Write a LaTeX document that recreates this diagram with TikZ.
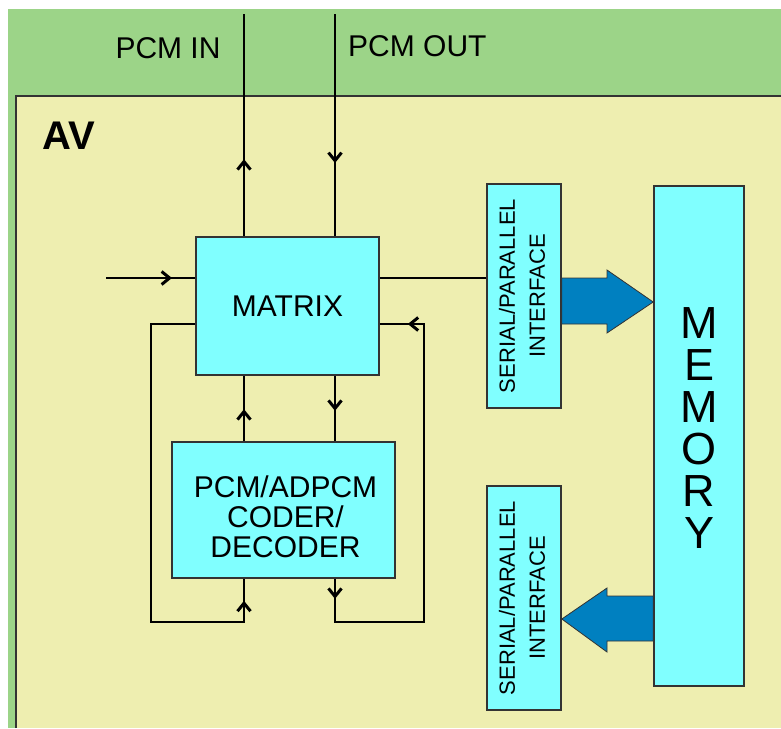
\documentclass[tikz,border=0pt]{standalone}
\usepackage{fontspec}
\setmainfont{Liberation Sans}
\usetikzlibrary{positioning,arrows.meta,calc,decorations.markings}
\definecolor{avgreen}{RGB}{156,212,136}
\definecolor{avyellow}{RGB}{238,238,176}
\definecolor{avcyan}{RGB}{128,255,255}
\definecolor{avblue}{RGB}{0,128,192}
\definecolor{avedge}{RGB}{51,51,51}
\tikzset{
  block/.style={draw=avedge, line width=1.6pt, fill=avcyan, inner sep=0pt, align=center, font=\fontsize{30}{30}\selectfont},
  sideblock/.style={draw=avedge, line width=1.6pt, fill=avcyan, inner sep=0pt, minimum width=74pt, minimum height=224pt},
  sidetext/.style={rotate=90, align=center, inner sep=0pt, font=\fontsize{22}{30}\selectfont},
  wire/.style={line width=1.4pt},
  chev/.tip={Straight Barb[length=8pt,width=13pt,line width=3pt]},
  tipat/.style={postaction={decorate}, decoration={markings, mark=at position #1 with {\arrow{chev}}}},
  fat/.style={draw=avedge, line width=0.8pt, fill=avblue},
  lbl/.style={inner sep=0pt, font=\fontsize{30}{30}\selectfont}
}

\begin{document}
\begin{tikzpicture}[x=1pt, y=-1pt]
  \useasboundingbox (0,0) rectangle (781,728);
  % background
  \fill[avgreen] (8,9) rectangle (781,728);
  \fill[avyellow] (16,96) rectangle (781,728);
  \draw[avedge, line width=2pt] (16,728) -- (16,96) -- (781,96);
  \node[anchor=base west, inner sep=0pt, font=\fontsize{40}{40}\selectfont\bfseries] (av) at (42,149) {AV};

  % blocks
  \node[block, minimum width=183pt, minimum height=138pt] (matrix) at (287.5,306) {MATRIX};
  \node[block, minimum width=223pt, minimum height=136pt] (coder) at (283.5,510) {};
  \node[lbl, align=center] (codertxt) at ($(coder.center)+(2,7)$) {PCM/ADPCM\\CODER/\\DECODER};
  \node[sideblock] (ser1) at (524,296) {};
  \node[sideblock] (ser2) at (524,598) {};
  \node[sidetext] at ($(ser1.center)+(-2,0)$) {SERIAL/PARALLEL\\INTERFACE};
  \node[sidetext] at ($(ser2.center)+(-2,0)$) {SERIAL/PARALLEL\\INTERFACE};
  \node[sideblock, minimum width=90pt, minimum height=500pt] (memory) at (699,436) {};
  \node[align=center, inner sep=0pt, font=\fontsize{45}{42}\selectfont] at ($(memory.center)+(0,-8)$) {M\\E\\M\\O\\R\\Y};

  % pcm lines
  \node[lbl] (inlbl) at (168,48) {PCM IN};
  \node[lbl, anchor=west] (outlbl) at (348,46) {PCM OUT};
  \coordinate (pin) at (244,14);
  \coordinate (pout) at (335,14);
  \coordinate (inL) at (106,278);
  \coordinate (fb) at (0,324);
  \coordinate (lowL) at (151,622);
  \coordinate (lowR) at (424,622);
  \draw[wire, tipat=77pt] (matrix.north -| pin) -- (pin);
  \draw[wire, tipat=149pt] (pout) -- (matrix.north -| pout);
  \draw[wire, tipat=66pt] (inL) -- (matrix.west |- inL);
  \draw[wire] (matrix.east |- inL) -- (ser1.west |- inL);
  \draw[wire, tipat=32pt] (coder.north -| pin) -- (matrix.south -| pin);
  \draw[wire, tipat=35pt] (matrix.south -| pout) -- (coder.north -| pout);
  \draw[wire, tipat=-22pt] (matrix.west |- fb) -| (lowL) -| (coder.south -| pin);
  \draw[wire, postaction={decorate}, decoration={markings,
      mark=at position 20pt with {\arrow{chev}},
      mark=at position -28pt with {\arrow{chev}}}]
    (coder.south -| pout) |- (lowR) |- (matrix.east |- fb);

  % block arrows
  \draw[fat] (ser1.east |- 0,278) -- (607,278) -- (607,270) -- (memory.west |- 0,302)
    -- (607,333) -- (607,324) -- (ser1.east |- 0,324) -- cycle;
  \draw[fat] (memory.west |- 0,596) -- (607,596) -- (607,588) -- (ser2.east |- 0,619)
    -- (607,652) -- (607,641) -- (memory.west |- 0,641) -- cycle;
\end{tikzpicture}
\end{document}
